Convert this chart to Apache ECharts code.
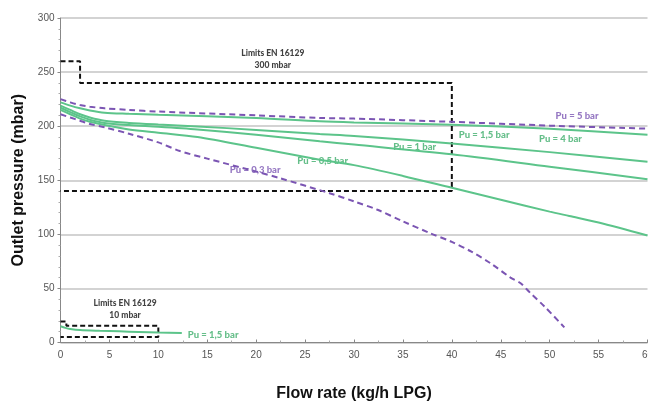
<!DOCTYPE html>
<html>
<head>
<meta charset="utf-8">
<script src="https://cdn.jsdelivr.net/npm/echarts@6/dist/echarts.min.js"></script>
<style>
    html, body { margin: 0; padding: 0; background: #fff; }
    .chart { width: 648px; height: 403px; }
</style>
</head>
<body>
<div class="chart"></div>
<script>
// 数据：每条曲线 [流量, 出口压力]
var pu5 = [[0, 225], [1, 222], [2, 219.5], [3, 218], [4.5, 216.5], [7, 215], [10, 213.5], [20, 210], [26.5, 207.6], [30, 207], [40, 204], [50, 200.5], [60, 197.7]];
var pu4 = [[0, 222], [1, 219], [2, 216.5], [3, 214.5], [4.5, 212.5], [7, 211.5], [10, 210.5], [20, 207.5], [26.5, 204.5], [30, 203.5], [40, 201.4], [50, 197.5], [60, 192]];
var pu15 = [[0, 219], [1, 215], [2, 211], [3, 208], [4.5, 205], [7, 203], [10, 201.5], [14, 199.8], [20, 196.5], [26.5, 192.8], [30, 191], [40, 184], [50, 176], [60, 167]];
var pu1 = [[0, 217], [1, 213], [2, 209], [3, 206], [4.5, 203], [7, 201], [10, 199.5], [14, 197], [20, 192], [26.5, 186], [30, 183], [40, 174], [50, 162.5], [60, 151]];
var pu05 = [[0, 215], [1, 211], [2, 207], [3, 204], [4.5, 201], [7, 197], [10, 194], [14, 190], [20, 180], [26.5, 169], [30, 164], [35, 154], [40, 143], [45, 132], [50, 121], [52, 117], [55, 111], [60, 99]];
var pu03 = [[0, 211], [1, 208], [2, 205], [3, 202], [4.5, 199], [7, 193], [10, 185], [12.2, 177], [15, 170], [20, 158], [22.4, 152], [27.5, 138], [30, 130.5], [32.4, 122.7], [35, 112], [37.8, 101], [40, 93], [42, 84], [44, 73], [46, 60], [47, 55], [48, 46], [49.5, 33], [51.5, 14]];
var pu15Low = [[0, 15], [0.5, 13.5], [1, 12.5], [2, 11.5], [4, 10.8], [6, 10.3], [8, 9.8], [10, 9.3], [12.4, 8.8]];
// EN 16129 限值框
var limits300 = [[0, 260], [2, 260], [2, 240], [40, 240], [40, 140], [0, 140]];
var limits10 = [[0, 19.5], [0.6, 19.5], [0.6, 15.5], [10, 15.5], [10, 5], [0, 5]];
// 文字标注 [x, y, 文本]
var greenLabels = [[51.1, 188.4, 'Pu = 4 bar'], [43.3, 192.1, 'Pu = 1,5 bar'], [36.2, 181, 'Pu = 1 bar'], [26.8, 167.5, 'Pu = 0,5 bar'], [15.6, 7, 'Pu = 1,5 bar']];
var purpleLabels = [[52.8, 209.7, 'Pu = 5 bar'], [19.9, 159.7, 'Pu = 0,3 bar']];
var limitLabels = [[21.7, 261.6, 'Limits EN 16129\n300 mbar'], [6.6, 31, 'Limits EN 16129\n10 mbar']];
var xTicks = [0, 60, 5];
var yTicks = [0, 300, 50];

(function () {
    var myChart = echarts.init(document.querySelector(".chart"));
    var green = '#5cc48a';
    var purple = '#7b55b3';

    function curve(data, color, dashed) {
        return {
            type: 'line',
            data: data,
            smooth: 0.3,
            symbol: 'none',
            silent: true,
            lineStyle: { color: color, width: 2, type: dashed ? [6, 4] : 'solid' }
        };
    }

    function box(data) {
        return {
            type: 'line',
            data: data,
            symbol: 'none',
            silent: true,
            lineStyle: { color: '#111', width: 2, type: [5, 3] }
        };
    }

    function texts(data, color, size) {
        return {
            type: 'scatter',
            data: data,
            symbolSize: 0,
            silent: true,
            label: {
                show: true,
                position: 'inside',
                color: color,
                fontFamily: 'Lato',
                fontWeight: 900,
                fontSize: size,
                lineHeight: 12,
                formatter: function (p) { return p.data[2]; }
            }
        };
    }

    var option = {
        animation: false,
        grid: {
            left: 60.5,
            right: 0.5,
            top: 18,
            bottom: 60.5,
            outerBoundsMode: 'none',
            containLabel: false
        },
        xAxis: {
            type: 'value',
            min: xTicks[0],
            max: xTicks[1],
            interval: xTicks[2],
            name: 'Flow rate (kg/h LPG)',
            nameLocation: 'middle',
            nameGap: 43,
            nameTextStyle: { color: '#111', fontSize: 16, fontWeight: 'bold', fontFamily: 'Liberation Sans' },
            axisLine: { lineStyle: { color: '#888', width: 1 } },
            axisTick: { show: true, inside: true, length: 3, lineStyle: { color: '#888' } },
            minorTick: { show: true, splitNumber: 2, length: 2, lineStyle: { color: '#aaa' } },
            axisLabel: { color: '#555', fontSize: 10, fontFamily: 'Liberation Sans', margin: 8 },
            splitLine: { show: false }
        },
        yAxis: {
            type: 'value',
            min: yTicks[0],
            max: yTicks[1],
            interval: yTicks[2],
            name: 'Outlet pressure (mbar)',
            nameLocation: 'middle',
            nameGap: 33,
            nameTextStyle: { color: '#111', fontSize: 16, fontWeight: 'bold', fontFamily: 'Liberation Sans' },
            axisLine: { show: true, lineStyle: { color: '#888', width: 1 } },
            axisTick: { show: true, length: 3, lineStyle: { color: '#888' } },
            minorTick: { show: true, splitNumber: 5, length: 2, lineStyle: { color: '#aaa' } },
            axisLabel: { color: '#555', fontSize: 10, fontFamily: 'Liberation Sans', margin: 6 },
            splitLine: { lineStyle: { color: '#c4c4c4', width: 1.5 } }
        },
        series: [
            box(limits300),
            box(limits10),
            curve(pu5, purple, true),
            curve(pu4, green),
            curve(pu15, green),
            curve(pu1, green),
            curve(pu05, green),
            curve(pu03, purple, true),
            curve(pu15Low, green),
            texts(greenLabels, '#3fae6b', 9.5),
            texts(purpleLabels, purple, 9.5),
            texts(limitLabels, '#111', 8.5)
        ]
    };
    myChart.setOption(option);
    window.addEventListener("resize", function () {
        myChart.resize();
    })
})();
</script>
</body>
</html>
